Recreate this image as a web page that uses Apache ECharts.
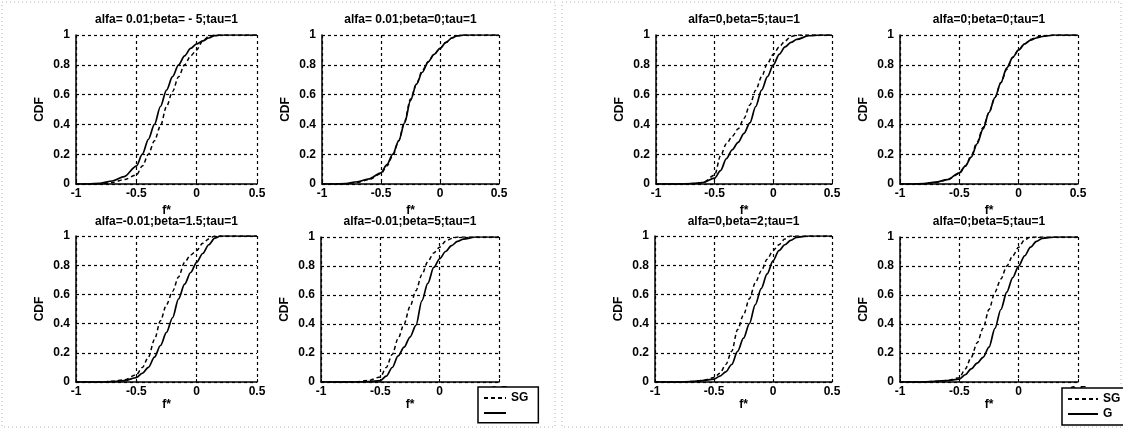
<!DOCTYPE html>
<html>
<head>
<meta charset="utf-8">
<title>CDF of f* - SG vs G</title>
<script src="https://cdn.jsdelivr.net/npm/echarts@6/dist/echarts.min.js"></script>
<style>
    html, body { margin: 0; padding: 0; background: #fff; }
    #chart { width: 1123px; height: 430px; }
</style>
</head>
<body>
<div id="chart"></div>
<script>
// f* sample points shared by all curves
var fVals = [-1, -0.9, -0.8, -0.7, -0.6, -0.5, -0.45, -0.4, -0.35, -0.3, -0.25, -0.2, -0.15, -0.1, -0.05, 0, 0.05, 0.1, 0.15, 0.2, 0.3, 0.4, 0.5];

var xTicks = [-1, -0.5, 0, 0.5];
var yTicks = [0, 0.2, 0.4, 0.6, 0.8, 1];

var titles = [
    'alfa= 0.01;beta= - 5;tau=1',
    'alfa= 0.01;beta=0;tau=1',
    'alfa=-0.01;beta=1.5;tau=1',
    'alfa=-0.01;beta=5;tau=1',
    'alfa=0,beta=5;tau=1',
    'alfa=0;beta=0;tau=1',
    'alfa=0,beta=2;tau=1',
    'alfa=0;beta=5;tau=1'
];

// CDF values, one pair per subplot
var sg1 = [0, 0, 0, 0.01, 0.03, 0.06, 0.12, 0.2, 0.29, 0.39, 0.52, 0.62, 0.72, 0.8, 0.86, 0.9, 0.96, 0.99, 1, 1, 1, 1, 1];
var g1 = [0, 0, 0.005, 0.02, 0.05, 0.12, 0.2, 0.3, 0.4, 0.52, 0.63, 0.72, 0.8, 0.86, 0.91, 0.94, 0.96, 0.98, 0.995, 1, 1, 1, 1];

var sg2 = [0, 0, 0.002, 0.012, 0.03, 0.07, 0.12, 0.19, 0.29, 0.42, 0.57, 0.67, 0.76, 0.82, 0.87, 0.91, 0.95, 0.98, 0.995, 1, 1, 1, 1];
var g2 = [0, 0, 0.003, 0.015, 0.035, 0.075, 0.13, 0.2, 0.29, 0.41, 0.56, 0.67, 0.75, 0.82, 0.87, 0.91, 0.95, 0.98, 0.995, 1, 1, 1, 1];

var sg3 = [0, 0, 0, 0.005, 0.015, 0.05, 0.1, 0.17, 0.29, 0.42, 0.53, 0.62, 0.72, 0.82, 0.87, 0.9, 0.95, 0.98, 1, 1, 1, 1, 1];
var g3 = [0, 0, 0, 0.003, 0.01, 0.03, 0.06, 0.1, 0.17, 0.25, 0.34, 0.44, 0.57, 0.67, 0.75, 0.82, 0.88, 0.94, 0.985, 1, 1, 1, 1];

var sg4 = [0, 0, 0, 0.002, 0.01, 0.035, 0.1, 0.19, 0.3, 0.4, 0.52, 0.63, 0.74, 0.83, 0.89, 0.93, 0.97, 0.99, 1, 1, 1, 1, 1];
var g4 = [0, 0, 0, 0, 0.003, 0.01, 0.04, 0.1, 0.18, 0.24, 0.31, 0.39, 0.56, 0.68, 0.79, 0.85, 0.9, 0.94, 0.97, 0.985, 1, 1, 1];

var sg5 = [0, 0, 0, 0.003, 0.01, 0.06, 0.19, 0.27, 0.32, 0.37, 0.44, 0.53, 0.63, 0.72, 0.81, 0.87, 0.92, 0.96, 0.99, 1, 1, 1, 1];
var g5 = [0, 0, 0, 0.002, 0.01, 0.04, 0.09, 0.17, 0.23, 0.28, 0.34, 0.41, 0.52, 0.63, 0.72, 0.8, 0.87, 0.92, 0.95, 0.97, 0.995, 1, 1];

var sg6 = [0, 0, 0.002, 0.01, 0.028, 0.07, 0.12, 0.19, 0.28, 0.38, 0.48, 0.58, 0.68, 0.77, 0.85, 0.9, 0.94, 0.97, 0.985, 0.995, 1, 1, 1];
var g6 = [0, 0, 0.003, 0.012, 0.03, 0.075, 0.12, 0.18, 0.27, 0.37, 0.48, 0.58, 0.68, 0.78, 0.85, 0.9, 0.94, 0.965, 0.98, 0.99, 1, 1, 1];

var sg7 = [0, 0, 0, 0.003, 0.01, 0.03, 0.06, 0.12, 0.21, 0.36, 0.46, 0.57, 0.68, 0.76, 0.84, 0.9, 0.94, 0.98, 1, 1, 1, 1, 1];
var g7 = [0, 0, 0, 0.003, 0.01, 0.02, 0.04, 0.07, 0.12, 0.21, 0.3, 0.4, 0.53, 0.64, 0.74, 0.83, 0.9, 0.94, 0.97, 0.99, 1, 1, 1];

var sg8 = [0, 0, 0, 0.005, 0.01, 0.03, 0.09, 0.17, 0.27, 0.37, 0.5, 0.62, 0.71, 0.8, 0.87, 0.93, 0.98, 1, 1, 1, 1, 1, 1];
var g8 = [0, 0, 0, 0.005, 0.01, 0.02, 0.05, 0.09, 0.13, 0.17, 0.24, 0.37, 0.5, 0.62, 0.72, 0.8, 0.87, 0.93, 0.97, 0.99, 1, 1, 1];

var sgSets = [sg1, sg2, sg3, sg4, sg5, sg6, sg7, sg8];
var gSets = [g1, g2, g3, g4, g5, g6, g7, g8];

(function () {
    'use strict';

    var FONT = '"Liberation Sans", Arial, sans-serif';

    // plot boxes (px): left, top, width, height
    var boxes = [
        [76, 35, 181, 149],
        [322, 35, 177, 149],
        [76, 236, 181, 146],
        [321, 237, 178, 145],
        [656, 35, 176, 149],
        [900, 35, 178, 149],
        [655, 236, 177, 146],
        [900, 237, 178, 145]
    ];

    var chart = echarts.init(document.getElementById('chart'), null, { renderer: 'canvas' });

    var grids = [];
    var xAxes = [];
    var yAxes = [];
    var series = [];
    var graphics = [];

    boxes.forEach(function (b, i) {
        var bottomRow = b[1] > 200;
        grids.push({
            left: b[0], top: b[1], width: b[2], height: b[3],
            outerBoundsMode: 'none',
            containLabel: false
        });
        xAxes.push(axis(i, 'x', bottomRow));
        yAxes.push(axis(i, 'y', bottomRow));
        series.push(curve(i, 'SG', sgSets[i]));
        series.push(curve(i, 'G', gSets[i]));
        graphics.push({
            type: 'text',
            x: b[0] + b[2] / 2,
            y: bottomRow ? 222 : 20,
            style: {
                text: titles[i],
                align: 'center',
                verticalAlign: 'middle',
                fill: '#000',
                font: 'bold 12px ' + FONT
            }
        });
    });

    // faint dotted frames around the two figure panels
    graphics.push(panelFrame(2, 2, 553, 425));
    graphics.push(panelFrame(562, 2, 559, 425));

    chart.setOption({
        animation: false,
        backgroundColor: '#fff',
        textStyle: { fontFamily: FONT },
        grid: grids,
        xAxis: xAxes,
        yAxis: yAxes,
        series: series,
        graphic: graphics,
        legend: [
            legendBox(478, 387, 22, function (name) { return name === 'G' ? '' : name; }),
            legendBox(1062, 388, 30, function (name) { return name; })
        ]
    });

    function axis(i, dim, bottomRow) {
        var isX = dim === 'x';
        return {
            gridIndex: i,
            type: 'value',
            min: isX ? xTicks[0] : yTicks[0],
            max: isX ? xTicks[xTicks.length - 1] : yTicks[yTicks.length - 1],
            interval: isX ? 0.5 : 0.2,
            name: isX ? 'f*' : 'CDF',
            nameLocation: 'middle',
            nameGap: isX ? (bottomRow ? 17 : 21) : 30,
            nameTextStyle: { color: '#000', fontSize: 12, fontWeight: 'bold', fontFamily: FONT },
            axisLine: { show: true, onZero: false, lineStyle: { color: '#000', width: 1.5 } },
            axisTick: { show: true, inside: true, length: 3, lineStyle: { color: '#000' } },
            axisLabel: {
                color: '#000',
                fontSize: 12,
                fontWeight: 'bold',
                fontFamily: FONT,
                margin: isX ? 4 : 6,
                showMinLabel: true,
                showMaxLabel: true
            },
            splitLine: { show: true, lineStyle: { color: '#000', width: 1.2, type: [3, 3] } }
        };
    }

    function curve(i, name, vals) {
        var dashed = name === 'SG';
        return {
            name: name,
            type: 'line',
            xAxisIndex: i,
            yAxisIndex: i,
            data: fVals.map(function (f, k) { return [f, vals[k]]; }),
            symbol: 'none',
            smooth: 0.3,
            smoothMonotone: 'x',
            lineStyle: {
                color: '#000',
                width: dashed ? 1.5 : 1.7,
                type: dashed ? [4, 3] : 'solid'
            },
            itemStyle: { color: '#000' },
            z: dashed ? 3 : 4
        };
    }

    function legendBox(left, top, lineWidth, fmt) {
        return {
            data: ['SG', 'G'],
            orient: 'vertical',
            left: left,
            top: top,
            padding: [5, 10, 5, 5],
            itemGap: 3,
            itemWidth: lineWidth,
            itemHeight: 12,
            borderColor: '#000',
            borderWidth: 1.5,
            backgroundColor: '#fff',
            formatter: fmt,
            // hide the marker dot so only the line sample shows
            itemStyle: { opacity: 0 },
            textStyle: { color: '#000', fontSize: 12, fontWeight: 'bold', fontFamily: FONT }
        };
    }

    function panelFrame(x, y, w, h) {
        return {
            type: 'rect',
            shape: { x: x, y: y, width: w, height: h },
            style: { fill: 'none', stroke: '#b0b0b0', lineWidth: 1, lineDash: [1, 3] },
            silent: true,
            z: -1
        };
    }
})();
</script>
</body>
</html>
